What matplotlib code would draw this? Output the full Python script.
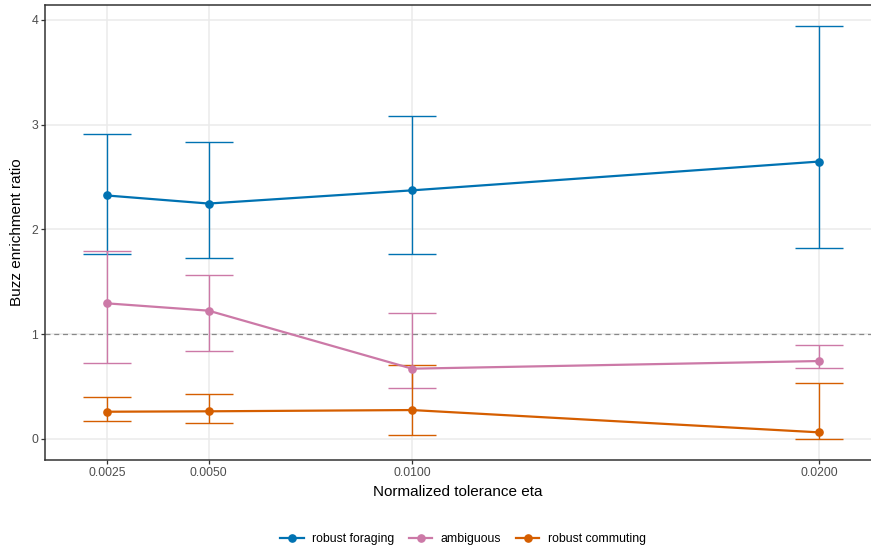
import matplotlib
matplotlib.use("Agg")
import matplotlib.pyplot as plt
from matplotlib.lines import Line2D

plt.rcParams['font.family'] = ['Liberation Sans', 'DejaVu Sans']

eta = [0.0025, 0.005, 0.01, 0.02]
tick_labels = ["0.0025", "0.0050", "0.0100", "0.0200"]
series = ["robust foraging", "ambiguous", "robust commuting"]
colors = ["#0072B2", "#CC79A7", "#D55E00"]

foraging_mean = [2.323, 2.246, 2.372, 2.647]
foraging_lo = [1.761, 1.726, 1.761, 1.821]
foraging_hi = [2.910, 2.834, 3.082, 3.942]

ambiguous_mean = [1.293, 1.223, 0.669, 0.742]
ambiguous_lo = [0.726, 0.838, 0.487, 0.672]
ambiguous_hi = [1.796, 1.561, 1.198, 0.892]

commuting_mean = [0.258, 0.262, 0.274, 0.061]
commuting_lo = [0.169, 0.153, 0.032, 0.0]
commuting_hi = [0.398, 0.427, 0.704, 0.535]

means = [foraging_mean, ambiguous_mean, commuting_mean]
los = [foraging_lo, ambiguous_lo, commuting_lo]
his = [foraging_hi, ambiguous_hi, commuting_hi]

W, H = 871, 548
fig = plt.figure(figsize=(W / 100, H / 100), dpi=100)
left, right, top, bottom = 45, 871, 5, 460
ax = fig.add_axes([left / W, 1 - bottom / H, (right - left) / W, (bottom - top) / H])

ax.set_xlim(0.00098, 0.021275)
ax.set_ylim(-0.203, 4.142)

ax.set_xticks(eta)
ax.set_xticklabels(tick_labels)
ax.set_yticks([0, 1, 2, 3, 4])
ax.grid(True, color="#EBEBEB", linewidth=1.1, zorder=0)
ax.set_axisbelow(True)

ax.axhline(1.0, color="#888888", linestyle=(0, (4, 3)), linewidth=0.9, zorder=1)

for m, lo, hi, c in zip(means, los, his, colors):
    yerr = [[mm - l for mm, l in zip(m, lo)], [h - mm for mm, h in zip(m, hi)]]
    ax.errorbar(eta, m, yerr=yerr, fmt='none', ecolor=c, elinewidth=1.0,
                capsize=17.6, capthick=1.0, zorder=2)
    ax.plot(eta, m, color=c, linewidth=1.6, marker='o', markersize=5.2, zorder=3)

for s in ['top', 'left', 'bottom']:
    ax.spines[s].set_color("#333333")
    ax.spines[s].set_linewidth(1.1)
ax.spines['right'].set_visible(False)

ax.tick_params(axis='both', colors="#333333", length=3, width=0.9,
               labelsize=8.8, labelcolor="#4D4D4D")
ax.tick_params(axis='y', pad=2.0)
ax.tick_params(axis='x', pad=2.0)
ax.set_xlabel("Normalized tolerance eta", fontsize=11, labelpad=4)
ax.set_ylabel("Buzz enrichment ratio", fontsize=11, labelpad=5)

handles = [Line2D([0], [0], color=c, linewidth=1.6, marker='o', markersize=5.2)
           for c in colors]
fig.legend(handles, series, loc='center', bbox_to_anchor=(463 / W, 1 - 539 / H),
           ncol=3, frameon=False, fontsize=8.8, handlelength=1.9,
           columnspacing=1.2, handletextpad=0.7)

fig.savefig("out.png", dpi=100)
